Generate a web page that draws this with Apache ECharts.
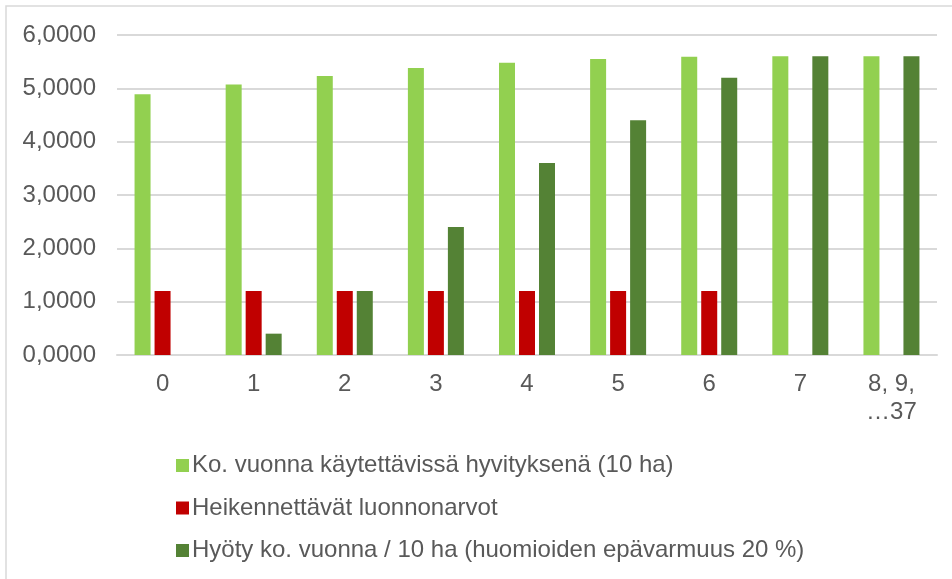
<!DOCTYPE html>
<html>
<head>
<meta charset="utf-8">
<script src="https://cdn.jsdelivr.net/npm/echarts@6/dist/echarts.min.js"></script>
<style>
html,body{margin:0;padding:0;background:#fff;}
#chart{width:952px;height:579px;}
</style>
</head>
<body>
<div id="chart"></div>
<script>
var categories = ['0', '1', '2', '3', '4', '5', '6', '7', '8, 9,\n…37'];
var seriesNames = [
  'Ko. vuonna käytettävissä hyvityksenä (10 ha)',
  'Heikennettävät luonnonarvot',
  'Hyöty ko. vuonna / 10 ha (huomioiden epävarmuus 20 %)'
];
var available = [4.89, 5.07, 5.23, 5.38, 5.48, 5.55, 5.59, 5.60, 5.60];
var weakened = [1.2, 1.2, 1.2, 1.2, 1.2, 1.2, 1.2, null, null];
var benefit = [0, 0.4, 1.2, 2.4, 3.6, 4.4, 5.2, 5.6, 5.6];
var colors = ['#92D050', '#C00000', '#548235'];

var font = 'Liberation Sans, Arial, sans-serif';
var chart = echarts.init(document.getElementById('chart'));
chart.setOption({
  animation: false,
  backgroundColor: '#fff',
  graphic: [{
    type: 'rect',
    shape: {x: 6, y: 6, width: 980, height: 620},
    style: {fill: 'none', stroke: '#d9d9d9', lineWidth: 1.5},
    silent: true
  }],
  grid: {left: 117, right: 15, top: 35, height: 320, containLabel: false},
  legend: {
    orient: 'vertical',
    left: 171,
    top: 447,
    itemWidth: 13,
    itemHeight: 13,
    itemGap: 15.5,
    icon: 'rect',
    textStyle: {fontFamily: font, fontSize: 24, color: '#595959', lineHeight: 27, padding: [0, 0, 0, -2]},
    data: seriesNames
  },
  xAxis: {
    type: 'category',
    data: categories,
    axisTick: {show: false},
    axisLine: {lineStyle: {color: '#d9d9d9', width: 2}},
    axisLabel: {fontFamily: font, fontSize: 24, color: '#595959', margin: 15, lineHeight: 28, interval: 0}
  },
  yAxis: {
    type: 'value',
    min: 0, max: 6, interval: 1,
    axisLine: {show: false},
    axisTick: {show: false},
    splitLine: {lineStyle: {color: '#d9d9d9', width: 2}},
    axisLabel: {
      fontFamily: font, fontSize: 24, color: '#595959', margin: 21,
      formatter: function (v) { return v.toFixed(4).replace('.', ','); }
    }
  },
  series: [
    {name: seriesNames[0], type: 'bar', data: available, barWidth: 16, barGap: '25%', itemStyle: {color: colors[0]}},
    {name: seriesNames[1], type: 'bar', data: weakened, barWidth: 16, barGap: '25%', itemStyle: {color: colors[1]}},
    {name: seriesNames[2], type: 'bar', data: benefit, barWidth: 16, barGap: '25%', itemStyle: {color: colors[2]}}
  ]
});
</script>
</body>
</html>
